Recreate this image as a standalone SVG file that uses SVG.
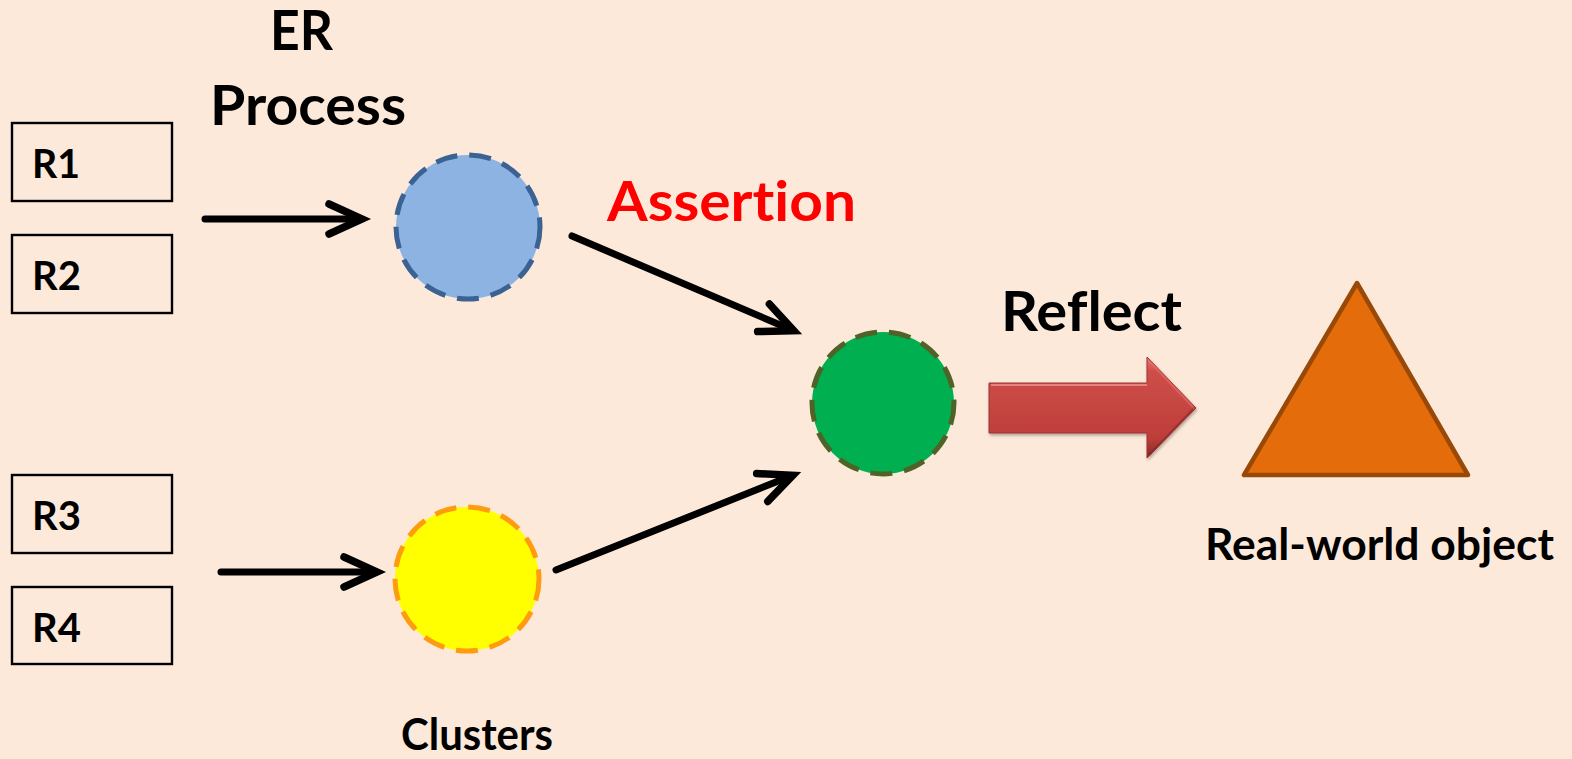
<svg xmlns="http://www.w3.org/2000/svg" width="1572" height="759" viewBox="0 0 1572 759">
  <style>
    .lbl { font-family: Lato, "Open Sans", "Liberation Sans", sans-serif; font-weight: bold; fill: #000; font-variant-ligatures: none; font-feature-settings: "liga" 0; }
    .rec { fill: none; stroke: #000; stroke-width: 2.4; }
    .conn { stroke: #000; stroke-width: 7; stroke-linecap: round; fill: none; }
    .dash { stroke-width: 5; stroke-dasharray: 22 12; }
  </style>
  <defs>
    <marker id="chev" markerUnits="userSpaceOnUse" markerWidth="60" markerHeight="60" refX="0" refY="0" viewBox="-40 -30 60 60" orient="auto" overflow="visible">
      <path d="M -31,-15 L 2,0 L -31,15" fill="none" stroke="#000" stroke-width="7.5" stroke-linecap="round" stroke-linejoin="miter"/>
    </marker>
    <linearGradient id="redBody" x1="0" y1="0" x2="0" y2="1">
      <stop offset="0" stop-color="#EC7A76"/>
      <stop offset="0.14" stop-color="#CE4E4A"/>
      <stop offset="0.8" stop-color="#BE3E3A"/>
      <stop offset="1" stop-color="#8A2825"/>
    </linearGradient>
    <filter id="soft" x="-10%" y="-20%" width="130%" height="150%">
      <feDropShadow dx="1" dy="2" stdDeviation="1.5" flood-color="#000" flood-opacity="0.3"/>
    </filter>
  </defs>

  <rect width="1572" height="759" fill="#FDE9D9"/>

  <!-- titles -->
  <g id="title-er">
    <text class="lbl" x="270" y="50" font-size="55" textLength="63" lengthAdjust="spacingAndGlyphs">ER</text>
    <text class="lbl" x="210" y="125" font-size="55" textLength="196" lengthAdjust="spacingAndGlyphs">Process</text>
  </g>
  <g id="title-assertion">
    <text class="lbl" x="607" y="221" font-size="55" style="fill:#FF0000" textLength="249" lengthAdjust="spacingAndGlyphs">Assertion</text>
  </g>
  <g id="title-reflect">
    <text class="lbl" x="1001" y="331" font-size="55" textLength="181" lengthAdjust="spacingAndGlyphs">Reflect</text>
  </g>

  <!-- record boxes -->
  <g id="r1">
    <rect class="rec" x="12" y="123" width="160" height="78"/>
    <text class="lbl" x="32" y="178" font-size="41" textLength="48" lengthAdjust="spacingAndGlyphs">R1</text>
  </g>
  <g id="r2">
    <rect class="rec" x="12" y="235" width="160" height="78"/>
    <text class="lbl" x="32" y="290" font-size="41" textLength="49" lengthAdjust="spacingAndGlyphs">R2</text>
  </g>
  <g id="r3">
    <rect class="rec" x="12" y="475" width="160" height="78"/>
    <text class="lbl" x="32" y="530" font-size="41" textLength="49" lengthAdjust="spacingAndGlyphs">R3</text>
  </g>
  <g id="r4">
    <rect class="rec" x="12" y="587" width="160" height="77"/>
    <text class="lbl" x="32" y="642" font-size="41" textLength="49" lengthAdjust="spacingAndGlyphs">R4</text>
  </g>

  <!-- connectors -->
  <g id="connectors">
    <line class="conn" x1="205" y1="219" x2="360" y2="219" marker-end="url(#chev)"/>
    <line class="conn" x1="221" y1="572" x2="375" y2="572" marker-end="url(#chev)"/>
    <line class="conn" x1="572" y1="236" x2="792" y2="330" marker-end="url(#chev)"/>
    <line class="conn" x1="556" y1="570" x2="791" y2="476" marker-end="url(#chev)"/>
  </g>

  <!-- clusters -->
  <g id="cluster-blue">
    <circle class="dash" cx="468" cy="227" r="72" fill="#8DB3E2" stroke="#3A6293"/>
  </g>
  <g id="cluster-yellow">
    <circle class="dash" cx="467" cy="579" r="72" fill="#FFFF00" stroke="#FF9B0F"/>
  </g>
  <g id="cluster-green">
    <circle class="dash" cx="883" cy="403" r="71" fill="#00B050" stroke="#4F6228"/>
  </g>
  <g id="clusters-label">
    <text class="lbl" x="401" y="750" font-size="43" textLength="152" lengthAdjust="spacingAndGlyphs">Clusters</text>
  </g>

  <!-- block arrow -->
  <g id="reflect-arrow">
    <path d="M 989,383 L 1147,383 L 1147,357 L 1196,408 L 1147,458 L 1147,433 L 989,433 Z" fill="url(#redBody)" stroke="#9B3431" stroke-width="1" filter="url(#soft)"/>
    <path d="M 991,385 L 1147,385" stroke="#F29A96" stroke-width="2" opacity="0.7"/>
    <path d="M 1149,361 L 1193,407" stroke="#E9706C" stroke-width="2" opacity="0.6"/>
    <path d="M 1149,455 L 1193,409" stroke="#7E2220" stroke-width="2" opacity="0.5"/>
  </g>

  <!-- object -->
  <g id="real-object">
    <polygon points="1357,283 1244,475 1468,475" fill="#E46C0A" stroke="#984807" stroke-width="4.5" stroke-linejoin="round"/>
    <text class="lbl" x="1205" y="560" font-size="43" textLength="349" lengthAdjust="spacingAndGlyphs">Real-world object</text>
  </g>
</svg>
